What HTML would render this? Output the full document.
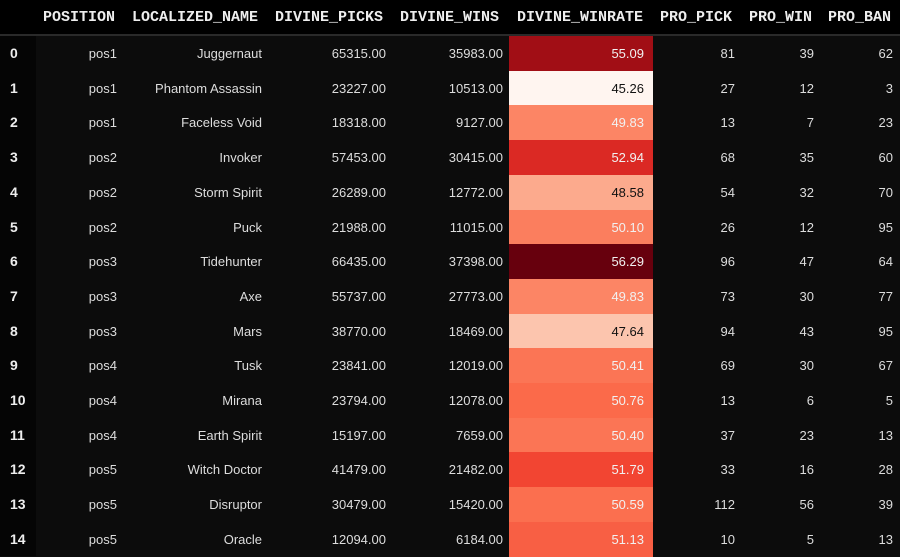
<!DOCTYPE html>
<html><head><meta charset="utf-8"><style>
html,body{margin:0;padding:0;width:900px;height:556px;overflow:hidden;background:#0c0c0c;font-family:"Liberation Sans",Arial,sans-serif;}
#hdr{position:absolute;left:0;top:0;width:900px;height:34px;background:#000;border-bottom:2px solid #2a2a2a;}
#idx{position:absolute;left:0;top:36px;width:36px;height:520px;background:#050505;}
.h{position:absolute;top:0;height:34px;line-height:35px;font-family:"Liberation Mono",monospace;font-weight:bold;font-size:15px;color:#eee;white-space:nowrap;}
.c{position:absolute;height:35px;line-height:35px;font-size:13px;color:#ddd;white-space:nowrap;text-align:right;}
.i{position:absolute;left:10px;height:35px;line-height:35px;font-size:14px;font-weight:bold;color:#eee;}
.w{position:absolute;left:509px;width:144px;}
.w span{position:absolute;right:9px;top:0;line-height:35px;font-size:13px;}
</style></head><body>
<div id="hdr"></div><div id="idx"></div>
<div class="h" style="left:43px">POSITION</div>
<div class="h" style="left:132px">LOCALIZED_NAME</div>
<div class="h" style="left:275px">DIVINE_PICKS</div>
<div class="h" style="left:400px">DIVINE_WINS</div>
<div class="h" style="left:517px">DIVINE_WINRATE</div>
<div class="h" style="left:660px">PRO_PICK</div>
<div class="h" style="left:749px">PRO_WIN</div>
<div class="h" style="left:828px">PRO_BAN</div>
<div id="rows"></div>
<script>
var d=[
["pos1","Juggernaut","65315.00","35983.00","55.09","#a10e15",1,81,39,62],
["pos1","Phantom Assassin","23227.00","10513.00","45.26","#fff5f0",0,27,12,3],
["pos1","Faceless Void","18318.00","9127.00","49.83","#fc8565",1,13,7,23],
["pos2","Invoker","57453.00","30415.00","52.94","#db2924",1,68,35,60],
["pos2","Storm Spirit","26289.00","12772.00","48.58","#fcaa8d",0,54,32,70],
["pos2","Puck","21988.00","11015.00","50.10","#fb7e5e",1,26,12,95],
["pos3","Tidehunter","66435.00","37398.00","56.29","#67000d",1,96,47,64],
["pos3","Axe","55737.00","27773.00","49.83","#fc8565",1,73,30,77],
["pos3","Mars","38770.00","18469.00","47.64","#fcc5ae",0,94,43,95],
["pos4","Tusk","23841.00","12019.00","50.41","#fb7555",1,69,30,67],
["pos4","Mirana","23794.00","12078.00","50.76","#fb6a4a",1,13,6,5],
["pos4","Earth Spirit","15197.00","7659.00","50.40","#fb7555",1,37,23,13],
["pos5","Witch Doctor","41479.00","21482.00","51.79","#f24532",1,33,16,28],
["pos5","Disruptor","30479.00","15420.00","50.59","#fb6f4f",1,112,56,39],
["pos5","Oracle","12094.00","6184.00","51.13","#f85f44",1,10,5,13]];
var h="";
function c(r,t,top){return '<div class="c" style="right:'+(900-r)+'px;top:'+top+'px">'+t+'</div>';}
d.forEach(function(r,i){var t=Math.round(36+i*34.7),nt=Math.round(36+(i+1)*34.7);
h+='<div class="i" style="top:'+t+'px">'+i+'</div>';
h+=c(117,r[0],t)+c(262,r[1],t)+c(386,r[2],t)+c(503,r[3],t);
h+='<div class="w" style="top:'+t+'px;height:'+(nt-t)+'px;background:'+r[5]+'"><span style="color:'+(r[6]?'#f1f1f1':'#111')+'">'+r[4]+'</span></div>';
h+=c(735,r[7],t)+c(814,r[8],t)+c(893,r[9],t);});
document.getElementById('rows').innerHTML=h;
</script>
</body></html>
